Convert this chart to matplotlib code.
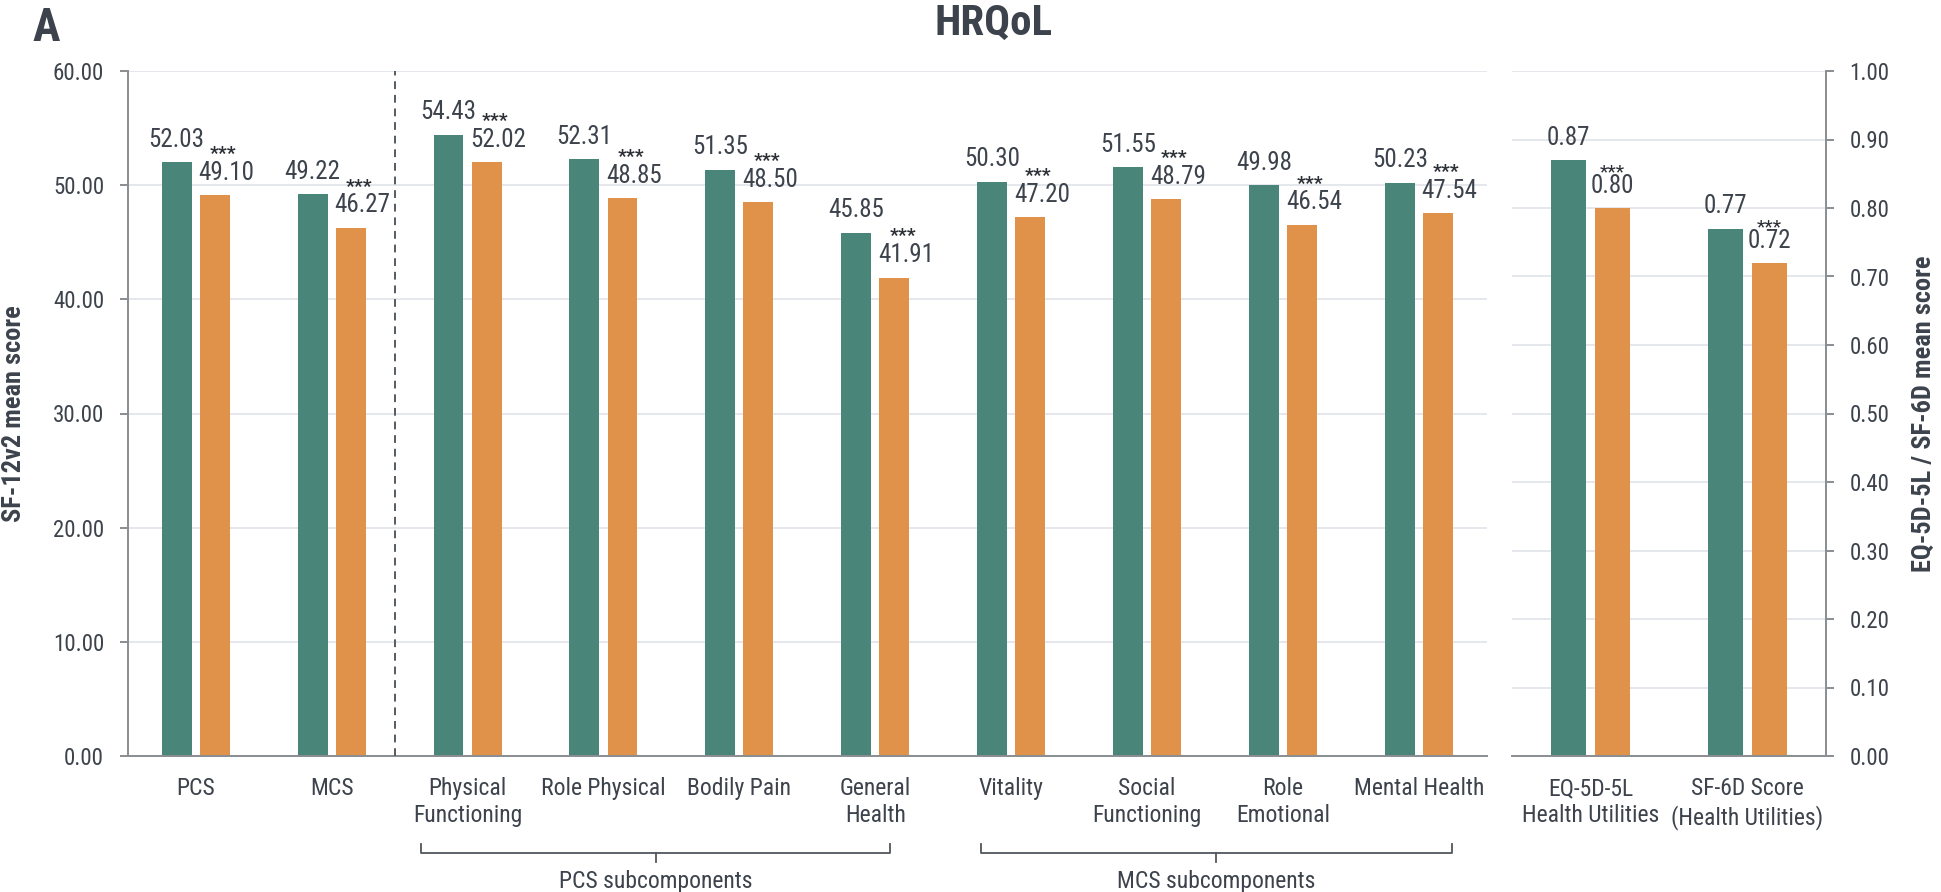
import matplotlib
matplotlib.use('Agg')
import matplotlib.pyplot as plt
import numpy as np

plt.rcParams['font.family'] = ['Roboto Condensed', 'Liberation Sans', 'DejaVu Sans']

# SF-12v2 scores (left axis)
sf_labels = ['PCS', 'MCS', 'Physical\nFunctioning', 'Role Physical', 'Bodily Pain',
             'General\nHealth', 'Vitality', 'Social\nFunctioning', 'Role\nEmotional',
             'Mental Health']
sf_green = [52.03, 49.22, 54.43, 52.31, 51.35, 45.85, 50.30, 51.55, 49.98, 50.23]
sf_orange = [49.10, 46.27, 52.02, 48.85, 48.50, 41.91, 47.20, 48.79, 46.54, 47.54]

# health utilities (right axis)
ut_labels = ['EQ-5D-5L\nHealth Utilities', 'SF-6D Score\n(Health Utilities)']
ut_green = [0.87, 0.77]
ut_orange = [0.80, 0.72]

sf_ticks = np.arange(0, 61, 10)
ut_ticks = np.arange(0, 1.01, 0.1)

GREEN = '#4a857a'
ORANGE = '#e0914a'
TXT = '#3d434c'
SPINE = '#8a8d91'
GRID = '#dfe3e8'

W, OFF = 0.22, 0.14
VAL_FS = 18


def style_axis(ax, side):
    for s in ['top', 'right', 'left']:
        ax.spines[s].set_visible(False)
    ax.spines['bottom'].set_color(SPINE)
    ax.spines['bottom'].set_linewidth(1.4)
    ax.spines[side].set_visible(True)
    ax.spines[side].set_color(SPINE)
    ax.spines[side].set_linewidth(1.4)
    ax.grid(axis='y', color=GRID, lw=1.2)
    ax.set_axisbelow(True)
    ax.tick_params(axis='x', length=0, pad=15, labelsize=17, colors=TXT)
    ax.tick_params(axis='y', length=6, width=1.4, color=SPINE, pad=11,
                   labelsize=16.5, labelcolor=TXT, direction='out')


def bracket(ax, x0, x1, text):
    tr = ax.get_xaxis_transform()
    xc = (x0 + x1) / 2
    ax.plot([x0, x0, x1, x1], [-0.128, -0.142, -0.142, -0.128], transform=tr,
            color='#50565e', lw=1.3, clip_on=False, solid_joinstyle='round')
    ax.plot([xc, xc], [-0.142, -0.155], transform=tr, color='#50565e', lw=1.3,
            clip_on=False)
    ax.text(xc, -0.183, text, transform=tr, ha='center', va='center',
            fontsize=17, color=TXT)


fig = plt.figure(figsize=(19.41, 8.92), dpi=100)
ax1 = fig.add_axes([127.7 / 1941, 136 / 892, 1359.3 / 1941, 685 / 892])
ax2 = fig.add_axes([1512 / 1941, 136 / 892, 314 / 1941, 685 / 892])

# left panel
x = np.arange(len(sf_labels))
ax1.bar(x - OFF, sf_green, W, color=GREEN, zorder=2)
ax1.bar(x + OFF, sf_orange, W, color=ORANGE, zorder=2)
for i in range(len(x)):
    ax1.annotate(f'{sf_green[i]:.2f}', (x[i] - OFF, sf_green[i]), xytext=(0, 11),
                 textcoords='offset points', ha='center', va='baseline',
                 fontsize=VAL_FS, color=TXT)
    ax1.annotate(f'{sf_orange[i]:.2f}', (x[i] + OFF - W / 2, sf_orange[i]),
                 xytext=(-1, 11), textcoords='offset points', ha='left',
                 va='baseline', fontsize=VAL_FS, color=TXT)
    ax1.annotate('***', (x[i] + OFF + 0.06, sf_orange[i]), xytext=(0, 26),
                 textcoords='offset points', ha='center', va='baseline',
                 fontsize=14, fontweight='bold', color='#2b2f35')
ax1.set_xlim(-0.5, 9.5)
ax1.set_ylim(0, 60)
ax1.set_yticks(sf_ticks)
ax1.set_yticklabels([f'{t:.2f}' for t in sf_ticks])
ax1.set_xticks(x)
ax1.set_xticklabels(sf_labels, linespacing=1.25)
style_axis(ax1, 'left')
ax1.vlines(1.47, 0, 60, colors='#555b63', linestyles=(0, (4, 3)), lw=1.4, zorder=3)
ax1.set_ylabel('SF-12v2 mean score', fontsize=19, fontweight='bold', color=TXT)
ax1.yaxis.set_label_coords(-0.075, 0.5)
bracket(ax1, 1.66, 5.11, 'PCS subcomponents')
bracket(ax1, 5.78, 9.24, 'MCS subcomponents')

# right panel
x2 = np.arange(len(ut_labels))
ax2.bar(x2 - OFF, ut_green, W, color=GREEN, zorder=2)
ax2.bar(x2 + OFF, ut_orange, W, color=ORANGE, zorder=2)
for i in range(len(x2)):
    ax2.annotate(f'{ut_green[i]:.2f}', (x2[i] - OFF, ut_green[i]), xytext=(0, 11),
                 textcoords='offset points', ha='center', va='baseline',
                 fontsize=VAL_FS, color=TXT)
    ax2.annotate(f'{ut_orange[i]:.2f}', (x2[i] + OFF, ut_orange[i]), xytext=(0, 11),
                 textcoords='offset points', ha='center', va='baseline',
                 fontsize=VAL_FS, color=TXT)
    ax2.annotate('***', (x2[i] + OFF, ut_orange[i]), xytext=(0, 22),
                 textcoords='offset points', ha='center', va='baseline',
                 fontsize=14, color='#2b2f35')
ax2.set_xlim(-0.5, 1.5)
ax2.set_ylim(0, 1)
ax2.yaxis.tick_right()
ax2.yaxis.set_label_position('right')
ax2.set_yticks(ut_ticks)
ax2.set_yticklabels([f'{t:.2f}' for t in ut_ticks])
ax2.set_xticks(x2)
ax2.set_xticklabels(ut_labels, linespacing=1.25)
style_axis(ax2, 'right')
ax2.set_ylabel('EQ-5D-5L / SF-6D mean score', fontsize=19, fontweight='bold',
               color=TXT, rotation=90)
ax2.yaxis.set_label_coords(1.274, 0.5)

fig.text(994 / 1941, 1 - 23 / 892, 'HRQoL', ha='center', va='center',
         fontsize=31, fontweight='bold', color=TXT)
fig.text(46 / 1941, 1 - 28 / 892, 'A', ha='center', va='center',
         fontsize=33, fontweight='bold', color=TXT)

fig.savefig('out.png', dpi=100)
